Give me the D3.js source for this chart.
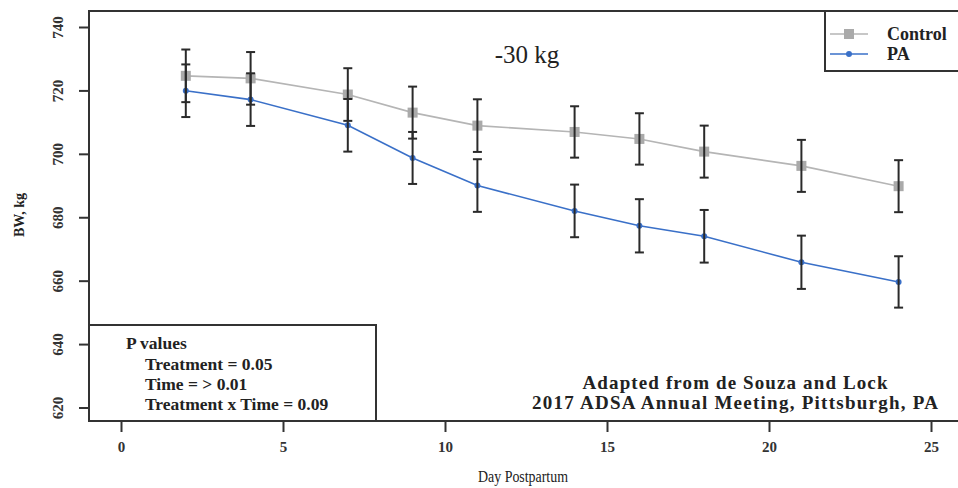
<!DOCTYPE html>
<html>
<head>
<meta charset="utf-8">
<script src="https://cdn.jsdelivr.net/npm/d3@7"></script>
<style>
  body { margin: 0; background: #fff; }
  text { font-family: "Liberation Serif", "DejaVu Serif", serif; fill: #222; }
</style>
</head>
<body>
<svg id="chart"></svg>
<script>
// Body weight by day postpartum
const days = [2, 4, 7, 9, 11, 14, 16, 18, 21, 24];
const control = [724.6, 723.8, 718.7, 713.0, 708.9, 706.9, 704.7, 700.7, 696.2, 689.8];
const controlSE = [8.3, 8.3, 8.3, 8.2, 8.3, 8.1, 8.1, 8.2, 8.2, 8.2];
const pa = [719.9, 717.1, 709.0, 698.7, 690.0, 682.0, 677.3, 674.0, 665.8, 659.6];
const paSE = [8.3, 8.3, 8.3, 8.2, 8.3, 8.3, 8.4, 8.3, 8.4, 8.1];
const xTicks = [0, 5, 10, 15, 20, 25];
const yTicks = [620, 640, 660, 680, 700, 720, 740];
const pLines = ["Treatment = 0.05", "Time = > 0.01", "Treatment x Time = 0.09"];
const sourceLines = ["Adapted from de Souza and Lock", "2017 ADSA Annual Meeting, Pittsburgh, PA"];

const width = 958, height = 488;
const frame = {left: 89, top: 11, bottom: 421};

const svg = d3.select("#chart")
    .attr("width", width)
    .attr("height", height);

const x = d3.scaleLinear().domain([0, 25]).range([121, 931]);
const y = d3.scaleLinear().domain([620, 740]).range([407.5, 27]);

const gray = "#b5b5b5", blue = "#3a70c8", ink = "#2a2a2a";
const serif = "Liberation Serif";

// frame, right side runs off the picture
svg.append("rect")
    .attr("x", frame.left)
    .attr("y", frame.top)
    .attr("width", 900)
    .attr("height", frame.bottom - frame.top)
    .attr("fill", "none")
    .attr("stroke", "#333")
    .attr("stroke-width", 2);

const yAxis = svg.append("g")
    .attr("transform", `translate(${frame.left},0)`)
    .call(d3.axisLeft(y).tickValues(yTicks).tickSize(10));
yAxis.select(".domain").remove();
yAxis.selectAll("line").attr("stroke", "#333").attr("stroke-width", 2);
yAxis.selectAll("text")
    .attr("transform", "rotate(-90)")
    .attr("x", 0)
    .attr("dy", 0)
    .attr("y", -26)
    .style("text-anchor", "middle")
    .style("font-family", serif)
    .style("font-weight", "bold")
    .style("font-size", "15px")
    .style("fill", "#333");

const xAxis = svg.append("g")
    .attr("transform", `translate(0,${frame.bottom})`)
    .call(d3.axisBottom(x).tickValues(xTicks).tickSize(11));
xAxis.select(".domain").remove();
xAxis.selectAll("line").attr("stroke", "#333").attr("stroke-width", 2);
xAxis.selectAll("text")
    .attr("y", 31)
    .attr("dy", 0)
    .style("font-family", serif)
    .style("font-weight", "bold")
    .style("font-size", "15px")
    .style("fill", "#333");

// axis titles
svg.append("text")
    .attr("transform", "translate(24,215) rotate(-90)")
    .attr("text-anchor", "middle")
    .attr("font-family", serif)
    .attr("font-size", 15)
    .attr("font-weight", "bold")
    .attr("textLength", 44)
    .attr("lengthAdjust", "spacingAndGlyphs")
    .text("BW, kg");

svg.append("text")
    .attr("x", 478)
    .attr("y", 482)
    .attr("font-family", serif)
    .attr("font-size", 17)
    .attr("textLength", 90)
    .attr("lengthAdjust", "spacingAndGlyphs")
    .text("Day Postpartum");

const line = d3.line()
    .x(d => x(d[0]))
    .y(d => y(d[1]));

const controlData = days.map((d, i) => [d, control[i], controlSE[i]]);
const paData = days.map((d, i) => [d, pa[i], paSE[i]]);

svg.append("path")
    .datum(controlData)
    .attr("fill", "none")
    .attr("stroke", gray)
    .attr("stroke-width", 1.6)
    .attr("d", line);

svg.append("path")
    .datum(paData)
    .attr("fill", "none")
    .attr("stroke", blue)
    .attr("stroke-width", 1.6)
    .attr("d", line);

svg.selectAll(".sq")
    .data(controlData)
    .enter()
    .append("rect")
    .attr("class", "sq")
    .attr("x", d => x(d[0]) - 5)
    .attr("y", d => y(d[1]) - 5)
    .attr("width", 10)
    .attr("height", 10)
    .attr("fill", "#aaaaaa");

svg.selectAll(".dot")
    .data(paData)
    .enter()
    .append("circle")
    .attr("class", "dot")
    .attr("cx", d => x(d[0]))
    .attr("cy", d => y(d[1]))
    .attr("r", 3)
    .attr("fill", blue);

// error bars on top
[controlData, paData].forEach(series => {
    series.forEach(d => {
        const cx = x(d[0]), y1 = y(d[1] + d[2]), y2 = y(d[1] - d[2]);
        const g = svg.append("g")
            .attr("stroke", ink)
            .attr("stroke-width", 2);
        g.append("line").attr("x1", cx).attr("x2", cx).attr("y1", y1).attr("y2", y2);
        g.append("line").attr("x1", cx - 4.5).attr("x2", cx + 4.5).attr("y1", y1).attr("y2", y1);
        g.append("line").attr("x1", cx - 4.5).attr("x2", cx + 4.5).attr("y1", y2).attr("y2", y2);
    });
});

// -30 kg note
svg.append("text")
    .attr("x", 527)
    .attr("y", 63)
    .attr("text-anchor", "middle")
    .attr("font-family", serif)
    .attr("font-size", 25)
    .text("-30 kg");

// legend
const legend = svg.append("g");
legend.append("rect")
    .attr("x", 825)
    .attr("y", frame.top)
    .attr("width", 200)
    .attr("height", 60)
    .attr("fill", "#fff")
    .attr("stroke", "#333")
    .attr("stroke-width", 2);

[["Control", gray, 34], ["PA", blue, 54]].forEach(([name, col, ly], i) => {
    legend.append("line")
        .attr("x1", 830).attr("x2", 868)
        .attr("y1", ly).attr("y2", ly)
        .attr("stroke", col)
        .attr("stroke-width", 1.6);
    if (i === 0) {
        legend.append("rect")
            .attr("x", 844).attr("y", ly - 5)
            .attr("width", 10).attr("height", 10)
            .attr("fill", "#aaaaaa");
    } else {
        legend.append("circle")
            .attr("cx", 849).attr("cy", ly)
            .attr("r", 3)
            .attr("fill", col);
    }
    legend.append("text")
        .attr("x", 887)
        .attr("y", ly + 6)
        .attr("font-family", serif)
        .attr("font-size", 18)
        .attr("font-weight", "bold")
        .text(name);
});

// P values box
const pBox = svg.append("g");
pBox.append("rect")
    .attr("x", frame.left)
    .attr("y", 325)
    .attr("width", 376 - frame.left)
    .attr("height", frame.bottom - 325)
    .attr("fill", "#fff")
    .attr("stroke", "#333")
    .attr("stroke-width", 2);

pBox.append("text")
    .attr("x", 126)
    .attr("y", 349)
    .attr("font-family", serif)
    .attr("font-size", 17.5)
    .attr("font-weight", "bold")
    .text("P values");

pBox.selectAll(".pl")
    .data(pLines)
    .enter()
    .append("text")
    .attr("x", 145)
    .attr("y", (d, i) => 369.5 + i * 20)
    .attr("font-family", serif)
    .attr("font-size", 17.5)
    .attr("font-weight", "bold")
    .text(d => d);

// source note
const srcWidths = [305, 406];
svg.selectAll(".src")
    .data(sourceLines)
    .enter()
    .append("text")
    .attr("x", 735)
    .attr("y", (d, i) => 389 + i * 20)
    .attr("text-anchor", "middle")
    .attr("font-family", serif)
    .attr("font-size", 19)
    .attr("font-weight", "bold")
    .attr("textLength", (d, i) => srcWidths[i])
    .attr("lengthAdjust", "spacing")
    .text(d => d);
</script>
</body>
</html>
